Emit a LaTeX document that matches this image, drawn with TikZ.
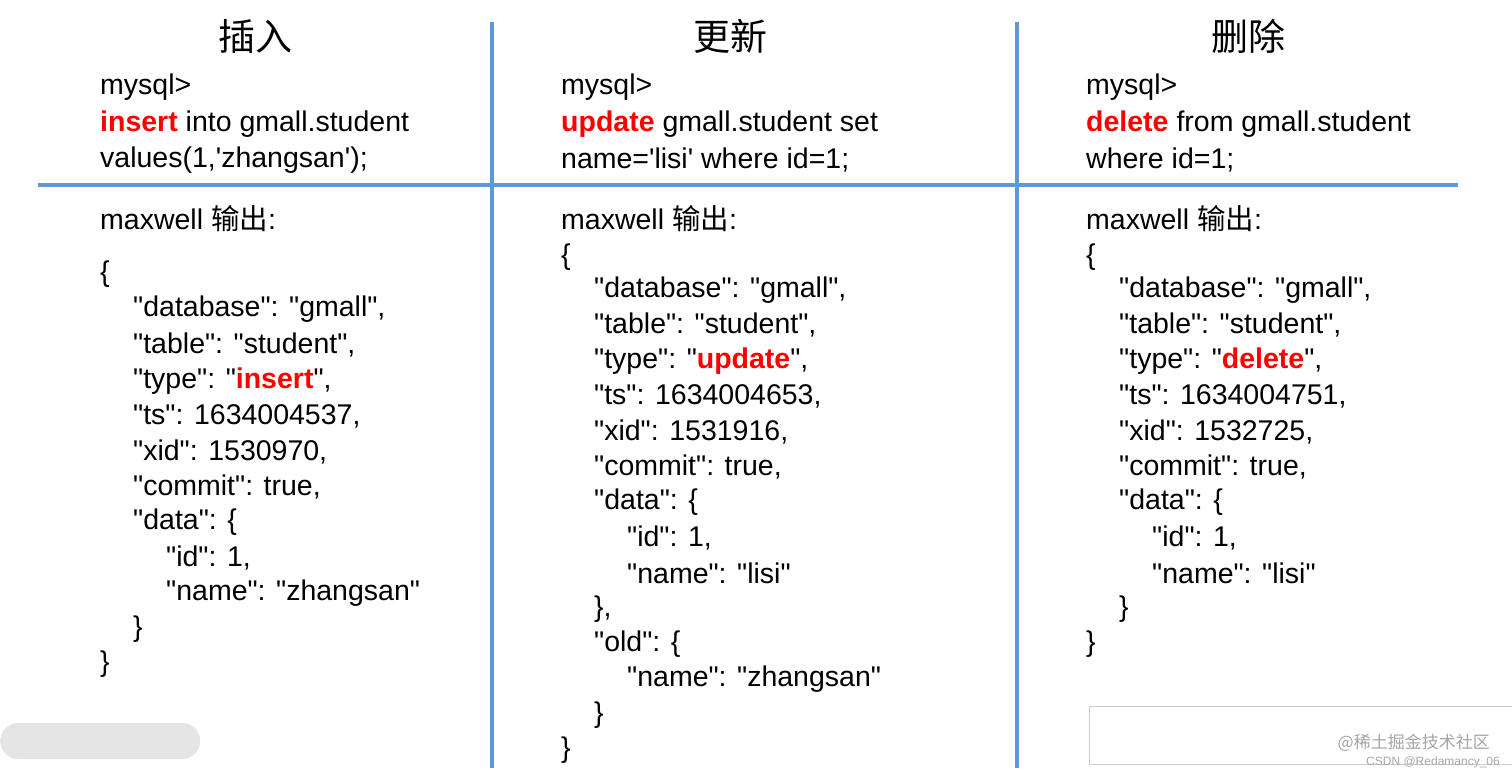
\documentclass[tikz,border=0pt]{standalone}
\usepackage{fontspec}
\newfontfamily\ar{Liberation Sans}
\newfontfamily\cjk{Noto Sans CJK SC}
\begin{document}
\begin{tikzpicture}[x=1pt,y=-1pt,
  t/.style={anchor=west,inner sep=0pt,yshift=-2pt,font=\ar\fontsize{28.5}{32}\selectfont},
  ttl/.style={inner sep=0pt,font=\cjk\fontsize{37}{40}\selectfont},
  sep/.style={line width=3.5pt,color={rgb,255:red,91;green,155;blue,213}}]
\useasboundingbox (0,0) rectangle (1512,776);
\newcommand\kw[1]{\textcolor{red}{\bfseries #1}}
\newcommand\mo{maxwell {\cjk 输出}:}
% separators
\coordinate (v1t) at (492,22); \coordinate (v1b) at (492,768);
\coordinate (v2t) at (1017,22); \coordinate (v2b) at (1017,768);
\coordinate (hl) at (38,185); \coordinate (hr) at (1458,185);
\draw[sep] (v1t)--(v1b); \draw[sep] (v2t)--(v2b); \draw[sep] (hl)--(hr);
% titles
\node[ttl] (t1) at (255,36) {插入};
\node[ttl] (t2) at (730,36) {更新};
\node[ttl] (t3) at (1248,36) {删除};
% column 1
\node[t] (a1) at (100,85) {mysql>};
\node[t] (a2) at (100,122) {\kw{insert} into gmall.student};
\node[t] (a3) at (100,158) {values(1,'zhangsan');};
\node[t] (a4) at (100,217) {\mo};
\node[t] (a5) at (100,272) {\{};
\node[t] (a6) at (133,307) {"database": "gmall",};
\node[t] (a7) at (133,343) {"table": "student",};
\node[t] (a8) at (133,379) {"type": "\kw{insert}",};
\node[t] (a9) at (133,414) {"ts": 1634004537,};
\node[t] (a10) at (133,450) {"xid": 1530970,};
\node[t] (a11) at (133,485) {"commit": true,};
\node[t] (a12) at (133,520) {"data": \{};
\node[t] (a13) at (166,556) {"id": 1,};
\node[t] (a14) at (166,591) {"name": "zhangsan"};
\node[t] (a15) at (133,627) {\}};
\node[t] (a16) at (100,662) {\}};
% column 2
\node[t] (b1) at (561,85) {mysql>};
\node[t] (b2) at (561,122) {\kw{update} gmall.student set};
\node[t] (b3) at (561,158) {name='lisi' where id=1;};
\node[t] (b4) at (561,217) {\mo};
\node[t] (b5) at (561,255) {\{};
\node[t] (b6) at (594,288) {"database": "gmall",};
\node[t] (b7) at (594,323) {"table": "student",};
\node[t] (b8) at (594,359) {"type": "\kw{update}",};
\node[t] (b9) at (594,394) {"ts": 1634004653,};
\node[t] (b10) at (594,430) {"xid": 1531916,};
\node[t] (b11) at (594,465) {"commit": true,};
\node[t] (b12) at (594,500) {"data": \{};
\node[t] (b13) at (627,536) {"id": 1,};
\node[t] (b14) at (627,571) {"name": "lisi"};
\node[t] (b15) at (594,607) {\},};
\node[t] (b16) at (594,642) {"old": \{};
\node[t] (b17) at (627,677) {"name": "zhangsan"};
\node[t] (b18) at (594,713) {\}};
\node[t] (b19) at (561,748) {\}};
% column 3
\node[t] (c1) at (1086,85) {mysql>};
\node[t] (c2) at (1086,122) {\kw{delete} from gmall.student};
\node[t] (c3) at (1086,158) {where id=1;};
\node[t] (c4) at (1086,217) {\mo};
\node[t] (c5) at (1086,255) {\{};
\node[t] (c6) at (1119,288) {"database": "gmall",};
\node[t] (c7) at (1119,323) {"table": "student",};
\node[t] (c8) at (1119,359) {"type": "\kw{delete}",};
\node[t] (c9) at (1119,394) {"ts": 1634004751,};
\node[t] (c10) at (1119,430) {"xid": 1532725,};
\node[t] (c11) at (1119,465) {"commit": true,};
\node[t] (c12) at (1119,500) {"data": \{};
\node[t] (c13) at (1152,536) {"id": 1,};
\node[t] (c14) at (1152,571) {"name": "lisi"};
\node[t] (c15) at (1119,607) {\}};
\node[t] (c16) at (1086,642) {\}};
% screenshot overlays
\node[draw=gray!40,fill=white,minimum width=425pt,minimum height=58pt,anchor=north west,inner sep=0pt] (box) at (1089,706) {};
\node[fill=gray!20,rounded corners=18pt,minimum width=200pt,minimum height=36pt,anchor=west,inner sep=0pt] (bar) at (0,741) {};
\node[anchor=east,inner sep=0pt,text=gray!70,font=\cjk\fontsize{17}{19}\selectfont] (wm) at (1490,743) {@稀土掘金技术社区};
\node[anchor=east,inner sep=0pt,text=gray!70,font=\ar\fontsize{12}{14}\selectfont] (wm2) at (1500,762) {CSDN @Redamancy\_06};
\end{tikzpicture}
\end{document}
